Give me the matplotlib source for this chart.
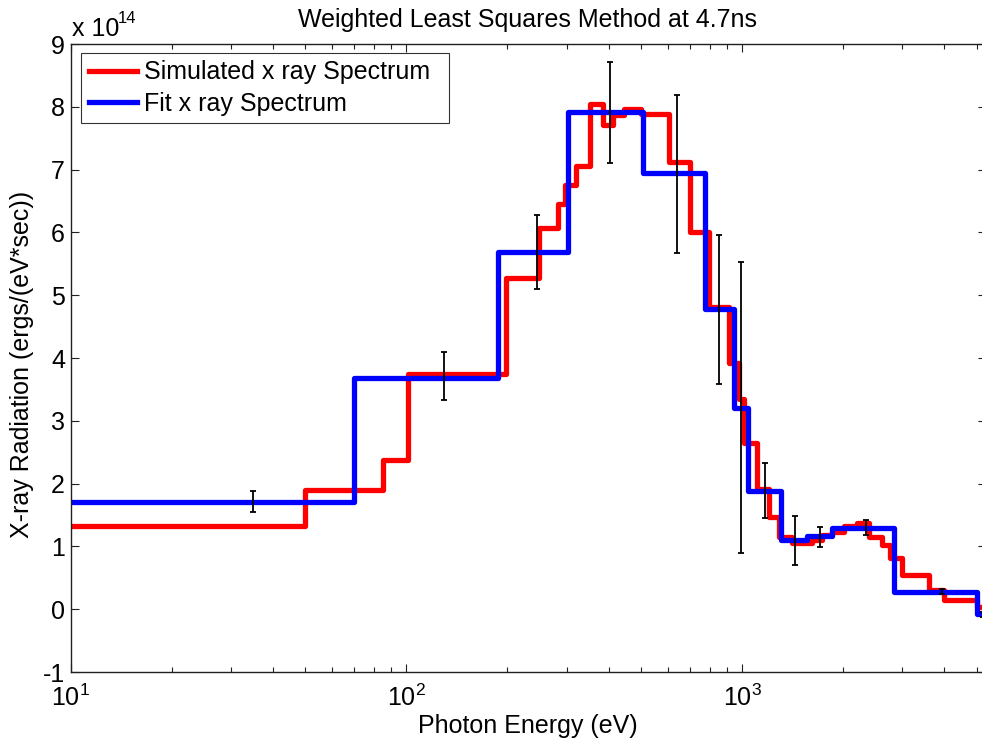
import matplotlib
matplotlib.use("Agg")
import matplotlib.pyplot as plt

plt.rcParams['font.family'] = ['Liberation Sans', 'DejaVu Sans']
plt.rcParams['mathtext.fontset'] = 'custom'
plt.rcParams['mathtext.rm'] = 'Liberation Sans'
plt.rcParams['mathtext.it'] = 'Liberation Sans:italic'
plt.rcParams['mathtext.bf'] = 'Liberation Sans:bold'
plt.rcParams['axes.unicode_minus'] = False

# Espectro simulado (escalones, unidades de 1e14)
sim_edges = [10, 50, 85, 101, 198, 249, 283, 297, 321, 351, 386, 413, 446, 501,
             604, 697, 795, 912, 977, 1010, 1104, 1199, 1283, 1405, 1612, 1726,
             1849, 2010, 2198, 2387, 2606, 2754, 2993, 3603, 3994, 5000, 5400]
sim_vals = [1.32, 1.90, 2.37, 3.74, 5.28, 6.07, 6.45, 6.75, 7.06, 8.04, 7.71,
            7.87, 7.97, 7.88, 7.12, 6.00, 4.81, 3.92, 3.35, 2.65, 1.92, 1.47,
            1.15, 1.05, 1.10, 1.18, 1.23, 1.32, 1.38, 1.15, 1.02, 0.81, 0.54,
            0.31, 0.15, 0.04]

# Ajuste
fit_edges = [10, 70, 187.5, 303, 508, 775, 944, 1040, 1308, 1556, 1850, 2830, 5000, 5400]
fit_vals = [1.70, 3.68, 5.68, 7.91, 6.94, 4.78, 3.20, 1.89, 1.10, 1.17, 1.30, 0.27, -0.08]

# Barras de error
err_x = [35, 129, 245, 405, 641, 855, 990, 1170, 1435, 1710, 2340, 3920, 5220]
err_y = [1.72, 3.71, 5.69, 7.91, 6.93, 4.77, 3.21, 1.89, 1.09, 1.15, 1.30, 0.28, -0.08]
err_d = [0.17, 0.38, 0.59, 0.80, 1.26, 1.19, 2.32, 0.44, 0.39, 0.16, 0.12, 0.04, 0.04]

fig = plt.figure(figsize=(9.82, 7.42), dpi=100)
ax = fig.add_axes([70.5 / 982, 70 / 742, 915 / 982, 628 / 742])

ax.step(sim_edges, sim_vals + [sim_vals[-1]], where='post', color=(1, 0, 0),
        lw=3.8, label='Simulated x ray Spectrum')
ax.step(fit_edges, fit_vals + [fit_vals[-1]], where='post', color=(0, 0, 1),
        lw=3.8, label='Fit x ray Spectrum')
ax.errorbar(err_x, err_y, yerr=err_d, fmt='none', ecolor='black',
            elinewidth=1.3, capsize=2.5, capthick=1.3)

ax.set_xscale('log')
ax.set_xlim(10, 5300)
ax.set_ylim(-1, 9)
ax.set_yticks(range(-1, 10))

for s in ax.spines.values():
    s.set_linewidth(1.0)
    s.set_color('#202020')
ax.tick_params(which='both', direction='in', top=True, right=True,
               labelsize=18, colors='#202020', labelcolor='black')
ax.tick_params(which='major', length=6, width=0.8)
ax.tick_params(axis='y', which='major', pad=4)
ax.tick_params(axis='x', which='major', pad=9)
ax.tick_params(which='minor', length=3.5, width=0.8)

ax.set_title('Weighted Least Squares Method at 4.7ns', fontsize=18, pad=12)
ax.set_xlabel('Photon Energy (eV)', fontsize=18, labelpad=2)
ax.set_ylabel('X-ray Radiation (ergs/(eV*sec))', fontsize=18)
ax.yaxis.set_label_coords(-0.040, 0.49)

fig.text(72 / 982, 1 - 36 / 742, 'x 10', fontsize=18, va='baseline', ha='left')
fig.text(118 / 982, 1 - 23 / 742, '14', fontsize=12, va='baseline', ha='left')

leg = ax.legend(loc='upper left', bbox_to_anchor=(0.0115, 0.5, 0.402, 0.4857),
                mode='expand', borderaxespad=0,
                fontsize=18, frameon=True, fancybox=False, handlelength=1.95,
                handletextpad=0.25, borderpad=0.3, labelspacing=0.3)
leg.get_frame().set_edgecolor('black')
leg.get_frame().set_linewidth(0.8)

fig.savefig('out.png', dpi=100)
